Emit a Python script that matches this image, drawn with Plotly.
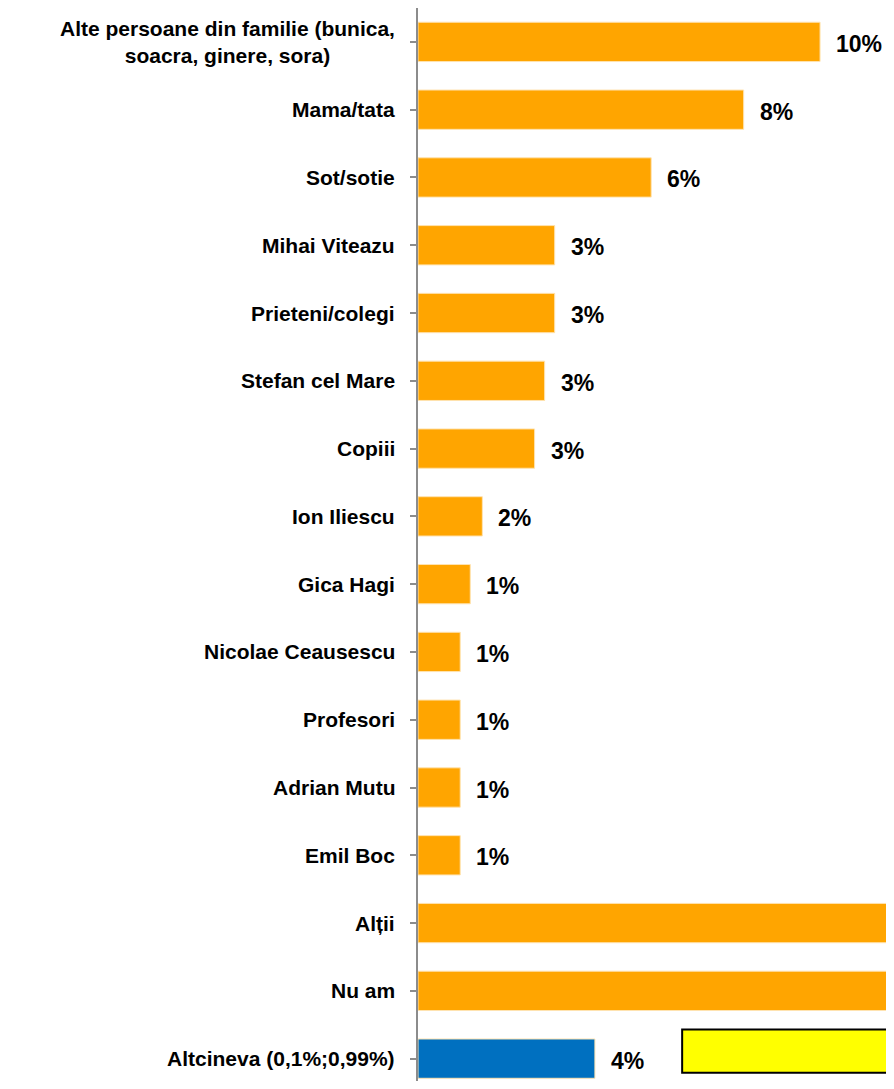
import plotly.graph_objs as go

categories = [
    "Alte persoane din familie (bunica,<br>soacra, ginere, sora)",
    "Mama/tata",
    "Sot/sotie",
    "Mihai Viteazu",
    "Prieteni/colegi",
    "Stefan cel Mare",
    "Copiii",
    "Ion Iliescu",
    "Gica Hagi",
    "Nicolae Ceausescu",
    "Profesori",
    "Adrian Mutu",
    "Emil Boc",
    "Alții",
    "Nu am",
    "Altcineva (0,1%;0,99%)",
]
values = [10.0, 8.1, 5.8, 3.4, 3.4, 3.15, 2.9, 1.6, 1.3, 1.05, 1.05, 1.05, 1.05, 25.0, 33.0, 4.4]
labels = ["10%", "8%", "6%", "3%", "3%", "3%", "3%", "2%", "1%", "1%", "1%", "1%", "1%", "", "", "4%"]
colors = ["#FFA500"] * 15 + ["#0070C0"]

x_max = 11.64
font_family = "Liberation Sans, Arial, sans-serif"

fig = go.Figure()
fig.add_trace(go.Bar(
    x=values,
    y=list(range(len(categories))),
    orientation="h",
    marker=dict(color=colors, line=dict(color="#FFE3B0", width=1)),
    hoverinfo="skip",
))

# category labels (centered multi-line, right anchored)
for i, cat in enumerate(categories):
    fig.add_annotation(
        x=0, xref="paper", y=i, yref="y",
        text=f"<b>{cat}</b>",
        xanchor="right", xshift=-21, align="center",
        showarrow=False,
        font=dict(family=font_family, size=21, color="black"),
    )

# value labels
for i, (v, lab) in enumerate(zip(values, labels)):
    if lab and v < x_max:
        fig.add_annotation(
            x=v, y=i, xref="x", yref="y",
            text=f"<b>{lab}</b>",
            xanchor="left", xshift=14, yshift=-2,
            showarrow=False,
            font=dict(family=font_family, size=23, color="black"),
        )

# yellow box next to the last bar
fig.add_shape(
    type="rect", xref="x", yref="y",
    x0=6.57, x1=20, y0=14.57, y1=15.21,
    fillcolor="#FFFF00", line=dict(color="black", width=2),
    layer="above",
)

fig.update_layout(
    width=878, height=1073,
    margin=dict(l=410, r=0, t=0, b=0),
    plot_bgcolor="white",
    paper_bgcolor="white",
    bargap=0.42,
    showlegend=False,
    xaxis=dict(range=[0, x_max], visible=False, fixedrange=True),
    yaxis=dict(
        range=[15.33, -0.5],
        tickmode="array",
        tickvals=list(range(len(categories))),
        ticktext=[""] * len(categories),
        tickson="boundaries",
        ticks="outside", ticklen=6, tickcolor="#8C8C8C", tickwidth=1.5,
        showline=True, linecolor="#8C8C8C", linewidth=2,
        showgrid=False, zeroline=False,
    ),
)

fig.write_html("out.html")
